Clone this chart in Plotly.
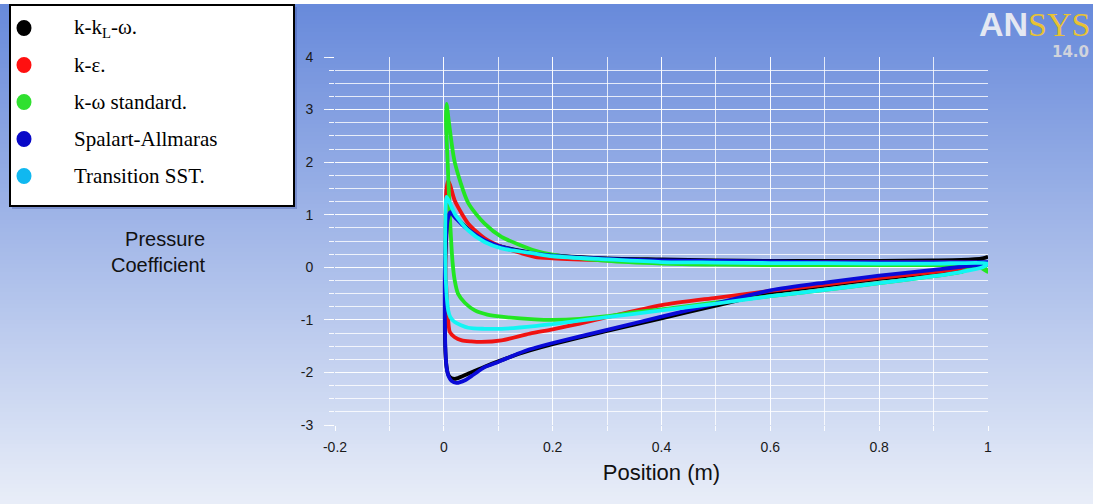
import plotly.graph_objects as go

# ---------------- data ----------------
kklw_x = [1.0, 0.99, 0.95, 0.9, 0.8, 0.7, 0.6, 0.5, 0.4, 0.3, 0.2, 0.15, 0.1, 0.075, 0.05, 0.035, 0.02, 0.012,
          0.006, 0.003, 0.002, 0.002, 0.004, 0.008, 0.014, 0.022, 0.035, 0.05, 0.075, 0.1, 0.137, 0.158, 0.2,
          0.3, 0.4, 0.5, 0.6, 0.7, 0.8, 0.9, 0.95, 0.99, 1.0]
kklw_cp = [0.20, 0.17, 0.14, 0.13, 0.12, 0.12, 0.12, 0.13, 0.15, 0.17, 0.23, 0.30, 0.41, 0.51, 0.68, 0.82, 0.98, 1.07,
           0.8, 0.2, -0.6, -1.3, -1.8, -2.04, -2.11, -2.12, -2.07, -2.0, -1.89, -1.79, -1.65, -1.58, -1.46,
           -1.21, -0.97, -0.73, -0.49, -0.35, -0.22, -0.11, -0.04, 0.03, 0.05]

ke_x = [0.98, 0.9, 0.8, 0.7, 0.6, 0.5, 0.4, 0.3, 0.2, 0.167, 0.106, 0.075, 0.045, 0.02, 0.012, 0.008, 0.005,
        0.003, 0.003, 0.005, 0.007, 0.011, 0.02, 0.033, 0.05, 0.069, 0.106, 0.158, 0.2, 0.25, 0.3, 0.4, 0.5,
        0.6, 0.7, 0.8, 0.9, 0.95, 0.98]
ke_cp = [0.1, 0.1, 0.1, 0.1, 0.1, 0.1, 0.11, 0.13, 0.17, 0.2, 0.39, 0.55, 0.83, 1.27, 1.55, 1.65, 1.5,
         0.9, 0.0, -0.5, -0.85, -1.23, -1.33, -1.39, -1.41, -1.42, -1.39, -1.26, -1.18, -1.07, -0.95, -0.72, -0.58,
         -0.45, -0.33, -0.2, -0.09, -0.02, 0.04]

kw_x = [1.0, 0.99, 0.95, 0.9, 0.8, 0.7, 0.6, 0.5, 0.4, 0.3, 0.2, 0.167, 0.106, 0.075, 0.045, 0.02, 0.01, 0.005,
        0.004, 0.007, 0.011, 0.016, 0.02, 0.026, 0.039, 0.057, 0.08, 0.106, 0.167, 0.2, 0.25, 0.3, 0.34, 0.4,
        0.5, 0.6, 0.7, 0.8, 0.9, 0.95, 0.98, 1.0]
kw_cp = [-0.09, 0.03, 0.04, 0.04, 0.04, 0.04, 0.04, 0.05, 0.07, 0.12, 0.24, 0.32, 0.58, 0.83, 1.22, 2.0, 2.7, 3.11,
         2.8, 2.0, 1.0, 0.1, -0.25, -0.5, -0.68, -0.82, -0.9, -0.94, -0.99, -1.0, -0.98, -0.93, -0.87, -0.8,
         -0.67, -0.55, -0.43, -0.3, -0.17, -0.09, 0.02, -0.09]

sa_x = [1.0, 0.95, 0.9, 0.8, 0.7, 0.6, 0.5, 0.4, 0.3, 0.2, 0.15, 0.1, 0.075, 0.05, 0.035, 0.025, 0.018, 0.012,
        0.008, 0.004, 0.002, 0.002, 0.003, 0.005, 0.009, 0.014, 0.023, 0.039, 0.055, 0.075, 0.1, 0.137, 0.158,
        0.2, 0.3, 0.4, 0.5, 0.6, 0.7, 0.8, 0.9, 0.95, 1.0]
sa_cp = [0.1, 0.1, 0.1, 0.1, 0.1, 0.11, 0.12, 0.13, 0.16, 0.22, 0.29, 0.41, 0.51, 0.68, 0.8, 0.9, 0.98, 1.05,
         0.95, 0.6, 0.0, -1.1, -1.6, -1.9, -2.08, -2.16, -2.2, -2.15, -2.04, -1.9, -1.8, -1.64, -1.56,
         -1.44, -1.19, -0.94, -0.69, -0.44, -0.29, -0.16, -0.05, 0.01, 0.05]

sst_x = [1.0, 0.9, 0.8, 0.7, 0.6, 0.5, 0.4, 0.3, 0.2, 0.167, 0.106, 0.075, 0.045, 0.02, 0.01, 0.005, 0.003,
         0.003, 0.005, 0.008, 0.012, 0.02, 0.045, 0.075, 0.106, 0.167, 0.2, 0.3, 0.4, 0.5, 0.6, 0.7, 0.8, 0.9,
         0.95, 0.99, 1.0]
sst_cp = [0.07, 0.07, 0.07, 0.08, 0.08, 0.09, 0.1, 0.15, 0.21, 0.26, 0.36, 0.48, 0.70, 1.02, 1.25, 1.34, 1.0,
          0.0, -0.5, -0.82, -0.95, -1.04, -1.15, -1.17, -1.17, -1.12, -1.08, -0.95, -0.82, -0.69, -0.55, -0.43,
          -0.3, -0.17, -0.09, 0.0, 0.07]

series_names = ["k-k<sub>L</sub>-ω.", "k-ε.", "k-ω standard.", "Spalart-Allmaras", "Transition SST."]
line_colors = ["#000000", "#f01212", "#22e622", "#0a0ad8", "#12f4f4"]
legend_colors = ["#000000", "#ff1010", "#30e030", "#0808c8", "#10b8f0"]

x_tick_vals = [-0.2, 0, 0.2, 0.4, 0.6, 0.8, 1.0]
x_tick_text = ["-0.2", "0", "0.2", "0.4", "0.6", "0.8", "1"]
y_tick_vals = [-3, -2, -1, 0, 1, 2, 3, 4]
y_tick_text = ["-3", "-2", "-1", "0", "1", "2", "3", "4"]

# ---------------- layout geometry ----------------
W, H = 1093, 504
ML, MR, MT, MB = 335, 105, 57, 79
PW, PH = W - ML - MR, H - MT - MB


def px(p):
    return (p - ML) / PW


def py(p):
    return (H - MB - p) / PH


fig = go.Figure()

data_x = [kklw_x, ke_x, kw_x, sa_x, sst_x]
data_y = [kklw_cp, ke_cp, kw_cp, sa_cp, sst_cp]
for xs, ys, name, col in zip(data_x, data_y, series_names, line_colors):
    fig.add_trace(go.Scatter(x=xs, y=ys, mode="lines", name=name,
                             line=dict(color=col, width=3.8, shape="spline", smoothing=0.7),
                             showlegend=False))

shapes = []
# background gradient
top_c = (104, 138, 219)
bot_c = (233, 238, 248)
y_start, y_end, step = 4, H, 4
yy = y_start
while yy < y_end:
    t = (yy - y_start) / (y_end - y_start)
    c = tuple(int(round(a + (b - a) * t)) for a, b in zip(top_c, bot_c))
    shapes.append(dict(type="rect", xref="paper", yref="paper", layer="below",
                       x0=px(0), x1=px(W), y0=py(min(yy + step + 0.5, H)), y1=py(yy),
                       fillcolor="rgb(%d,%d,%d)" % c, line=dict(width=0)))
    yy += step

# legend box
shapes.append(dict(type="rect", xref="paper", yref="paper", layer="above",
                   x0=px(12), x1=px(297), y0=py(209), y1=py(7),
                   fillcolor="rgba(60,80,160,0.35)", line=dict(width=0)))
shapes.append(dict(type="rect", xref="paper", yref="paper", layer="above",
                   x0=px(10), x1=px(294), y0=py(206), y1=py(5),
                   fillcolor="white", line=dict(color="black", width=2)))

annotations = []
row_y = [28, 65, 102, 139, 176]
for ry, name, col in zip(row_y, series_names, legend_colors):
    shapes.append(dict(type="circle", xref="paper", yref="paper", layer="above",
                       xsizemode="pixel", ysizemode="pixel", xanchor=px(24), yanchor=py(ry),
                       x0=-7.5, x1=7.5, y0=-8, y1=8, fillcolor=col, line=dict(width=0)))
    annotations.append(dict(xref="paper", yref="paper", x=px(72), y=py(ry), xanchor="left", yanchor="middle",
                            text=name, showarrow=False,
                            font=dict(family="Liberation Serif, Times New Roman, serif", size=21, color="black")))

# y label (two lines, right aligned)
annotations.append(dict(xref="paper", yref="paper", x=px(208), y=py(252), xanchor="right", yanchor="middle",
                        text="Pressure<br>Coefficient", align="right", showarrow=False,
                        font=dict(family="Liberation Sans, Arial, sans-serif", size=20, color="#111111")))
# logo
annotations.append(dict(xref="paper", yref="paper", x=px(1092), y=py(24), xanchor="right", yanchor="middle",
                        text="<b><span style='color:#e4e8f2;font-family:Liberation Sans'>AN</span></b>"
                             "<span style='color:#e8c234'>SYS</span>",
                        showarrow=False,
                        font=dict(family="Liberation Serif, Times New Roman, serif", size=34, color="#e8c234")))
annotations.append(dict(xref="paper", yref="paper", x=px(1091), y=py(52), xanchor="right", yanchor="middle",
                        text="<b>14.0</b>", showarrow=False,
                        font=dict(family="DejaVu Sans, Arial", size=15, color="#d0d3dc")))

grid_col = "rgba(255,255,255,0.8)"
tick_font = dict(family="Liberation Sans, Arial, sans-serif", size=14, color="#1a1a1a")

fig.update_layout(
    width=W, height=H,
    margin=dict(l=ML, r=MR, t=MT, b=MB, pad=0),
    paper_bgcolor="white",
    plot_bgcolor="rgba(0,0,0,0)",
    shapes=shapes,
    annotations=annotations,
    showlegend=False,
    xaxis=dict(range=[-0.2, 1.0], tickmode="array", tickvals=x_tick_vals, ticktext=x_tick_text,
               showgrid=True, gridcolor=grid_col, gridwidth=1.2, zeroline=False, showline=False,
               ticks="outside", ticklen=5, tickcolor="rgba(255,255,255,0.9)", tickfont=tick_font,
               ticklabelstandoff=4,
               minor=dict(tick0=0, dtick=0.1, showgrid=True, gridcolor=grid_col, gridwidth=1.2,
                          ticks="outside", ticklen=5, tickcolor="rgba(255,255,255,0.9)"),
               title=dict(text="Position (m)", standoff=10,
                          font=dict(family="Liberation Sans, Arial, sans-serif", size=22, color="#111111"))),
    yaxis=dict(range=[-3, 4], tickmode="array", tickvals=y_tick_vals, ticktext=y_tick_text,
               showgrid=True, gridcolor=grid_col, gridwidth=1.2, zeroline=False, showline=False,
               ticks="outside", ticklen=10, tickcolor="rgba(255,255,255,0.9)", tickfont=tick_font,
               ticklabelstandoff=8,
               minor=dict(tick0=0, dtick=0.25, showgrid=True, gridcolor=grid_col, gridwidth=1.2,
                          ticks="outside", ticklen=5, tickcolor="rgba(255,255,255,0.9)")),
)

fig.write_html("out.html")
